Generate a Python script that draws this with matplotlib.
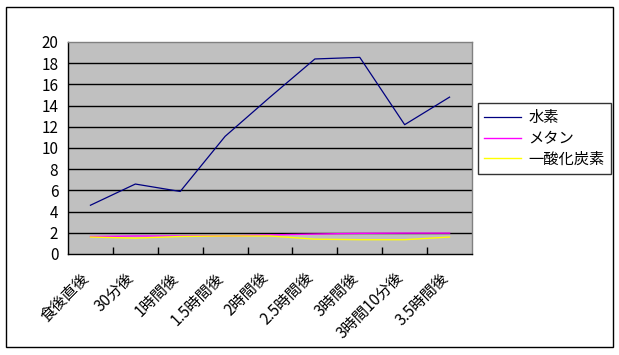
import matplotlib
matplotlib.use('Agg')
import matplotlib.pyplot as plt
import matplotlib.transforms as mtransforms
import numpy as np
from matplotlib.patches import Rectangle

plt.rcParams['font.family'] = ['Noto Sans CJK JP', 'DejaVu Sans']

# data
categories = ['食後直後', '30分後', '1時間後', '1.5時間後', '2時間後',
              '2.5時間後', '3時間後', '3時間10分後', '3.5時間後']
hydrogen = [4.6, 6.6, 5.9, 11.1, 14.8, 18.4, 18.55, 12.2, 14.8]
methane = [1.65, 1.7, 1.7, 1.7, 1.8, 1.88, 1.95, 1.97, 1.97]
co = [1.6, 1.5, 1.65, 1.7, 1.7, 1.4, 1.35, 1.35, 1.6]
yticks = np.arange(0, 21, 2)


def main():
    fig = plt.figure(figsize=(6.19, 3.55), dpi=100)
    W, H = 619, 355
    ax = fig.add_axes([68 / W, 1 - 254 / H, (472 - 68) / W, (254 - 42) / H])

    # outer chart border
    fig.patches.append(Rectangle((6 / W, 8 / H), 607 / W, 340 / H, transform=fig.transFigure,
                                 fill=False, edgecolor='black', linewidth=1.0))

    x = np.arange(len(categories))
    ax.set_facecolor('#C0C0C0')
    for y in yticks[1:-1]:
        ax.axhline(y, color='black', linewidth=1.0, zorder=1)

    ax.plot(x, hydrogen, color='#000080', linewidth=0.9, label='水素', zorder=3)
    ax.plot(x, methane, color='#FF00FF', linewidth=1.0, label='メタン', zorder=3)
    ax.plot(x, co, color='#FFFF00', linewidth=1.0, label='一酸化炭素', zorder=4)

    ax.set_xlim(-0.5, len(categories) - 0.5)
    ax.set_ylim(0, 20)
    ax.set_yticks(yticks)
    ax.set_yticklabels([str(v) for v in yticks], fontsize=11)
    ax.tick_params(axis='y', length=0, pad=7)

    ax.set_xticks(x)
    ax.set_xticklabels(categories, fontsize=11, rotation=45, ha='right', va='top',
                       rotation_mode='anchor')
    ax.tick_params(axis='x', which='major', length=0, pad=11)
    # excel puts the rotated labels a bit left of the category centre
    shift = mtransforms.ScaledTranslation(-10 / 100, 0, fig.dpi_scale_trans)
    for lab in ax.get_xticklabels():
        lab.set_transform(lab.get_transform() + shift)
    ax.set_xticks(np.arange(0.5, len(categories) - 1, 1), minor=True)
    ax.tick_params(axis='x', which='minor', direction='in', length=5, width=1, color='black')

    for side in ['top', 'right']:
        ax.spines[side].set_color('#808080')
        ax.spines[side].set_linewidth(1.0)
    for side in ['left', 'bottom']:
        ax.spines[side].set_color('black')
        ax.spines[side].set_linewidth(1.0)

    leg = ax.legend(loc='upper left', bbox_to_anchor=(478 / W, 1 - 103 / H),
                    bbox_transform=fig.transFigure, fontsize=11, frameon=True,
                    fancybox=False, edgecolor='black', borderaxespad=0,
                    handlelength=2.4, handletextpad=0.5, labelspacing=0.25,
                    borderpad=0.4)
    leg.get_frame().set_linewidth(1.0)

    fig.savefig('out.png', dpi=100)


if __name__ == '__main__':
    main()
